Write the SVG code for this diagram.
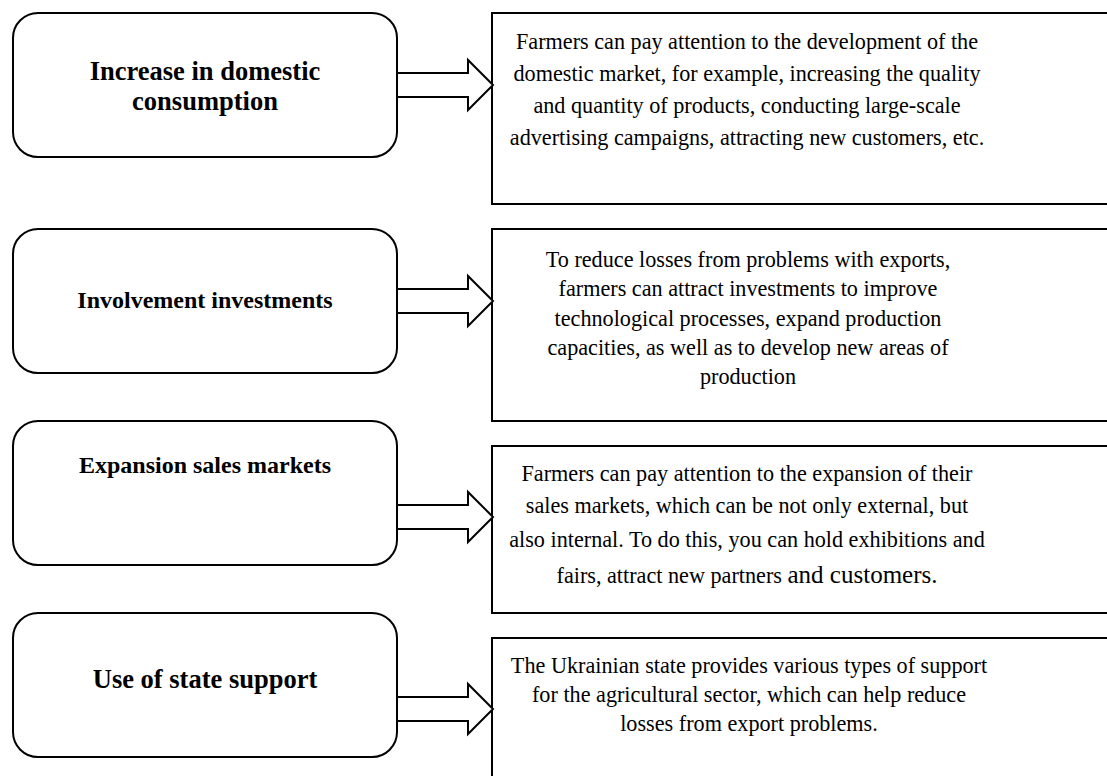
<svg xmlns="http://www.w3.org/2000/svg" width="1107" height="776" viewBox="0 0 1107 776">
  <style>
    .factor { fill: #ffffff; stroke: #000000; stroke-width: 2; }
    .detail { fill: #ffffff; stroke: #000000; stroke-width: 2; }
    .arrow { fill: #ffffff; stroke: #000000; stroke-width: 2; stroke-linejoin: miter; }
    .title { font-weight: bold; font-size: 26.5px; fill: #000000; text-anchor: middle; }
    .title.small { font-size: 24px; }
    .body { font-size: 22.2px; fill: #000000; text-anchor: middle; }
  </style>
  <defs>
    <!-- block arrow, origin at the tip -->
    <path id="blockArrow" class="arrow" d="M-96,-12 H-25 V-25 L0,0 L-25,25 V12 H-96 Z"/>
  </defs>
  <rect width="1107" height="776" fill="#ffffff"/>

  <g font-family="Liberation Serif, Times New Roman, DejaVu Serif, serif">
  <!-- row 1 -->
  <g id="factor-domestic">
    <rect class="factor" x="13" y="13" width="384" height="144" rx="25" ry="25"/>
    <text class="title" x="205" y="80">Increase in domestic</text>
    <text class="title" x="205" y="110">consumption</text>
  </g>
  <g id="detail-domestic">
    <rect class="detail" x="492" y="13" width="640" height="191"/>
    <text class="body" x="747" y="49">Farmers can pay attention to the development of the</text>
    <text class="body" x="747" y="81">domestic market, for example, increasing the quality</text>
    <text class="body" x="747" y="113">and quantity of products, conducting large-scale</text>
    <text class="body" x="747" y="145">advertising campaigns, attracting new customers, etc.</text>
  </g>

  <!-- row 2 -->
  <g id="factor-investments">
    <rect class="factor" x="13" y="229" width="384" height="144" rx="25" ry="25"/>
    <text class="title small" x="205" y="308">Involvement investments</text>
  </g>
  <g id="detail-investments">
    <rect class="detail" x="492" y="229" width="640" height="192"/>
    <text class="body" x="748" y="267">To reduce losses from problems with exports,</text>
    <text class="body" x="748" y="296">farmers can attract investments to improve</text>
    <text class="body" x="748" y="326">technological processes, expand production</text>
    <text class="body" x="748" y="355">capacities, as well as to develop new areas of</text>
    <text class="body" x="748" y="384">production</text>
  </g>

  <!-- row 3 -->
  <g id="factor-markets">
    <rect class="factor" x="13" y="421" width="384" height="144" rx="25" ry="25"/>
    <text class="title small" x="205" y="473">Expansion sales markets</text>
  </g>
  <g id="detail-markets">
    <rect class="detail" x="492" y="446" width="640" height="167"/>
    <text class="body" x="747" y="481">Farmers can pay attention to the expansion of their</text>
    <text class="body" x="747" y="513">sales markets, which can be not only external, but</text>
    <text class="body" x="747" y="547">also internal. To do this, you can hold exhibitions and</text>
    <text class="body" x="747" y="583">fairs, attract new partners <tspan font-size="25px">and customers.</tspan></text>
  </g>

  <!-- row 4 -->
  <g id="factor-support">
    <rect class="factor" x="13" y="613" width="384" height="144" rx="25" ry="25"/>
    <text class="title" x="205" y="688">Use of state support</text>
  </g>
  <g id="detail-support">
    <rect class="detail" x="492" y="638" width="640" height="200"/>
    <text class="body" x="749" y="673">The Ukrainian state provides various types of support</text>
    <text class="body" x="749" y="702">for the agricultural sector, which can help reduce</text>
    <text class="body" x="749" y="731">losses from export problems.</text>
  </g>
  </g>

  <!-- connectors -->
  <g id="connectors">
    <use href="#blockArrow" x="493" y="85"/>
    <use href="#blockArrow" x="493" y="301"/>
    <use href="#blockArrow" x="493" y="517"/>
    <use href="#blockArrow" x="493" y="709"/>
  </g>
</svg>
